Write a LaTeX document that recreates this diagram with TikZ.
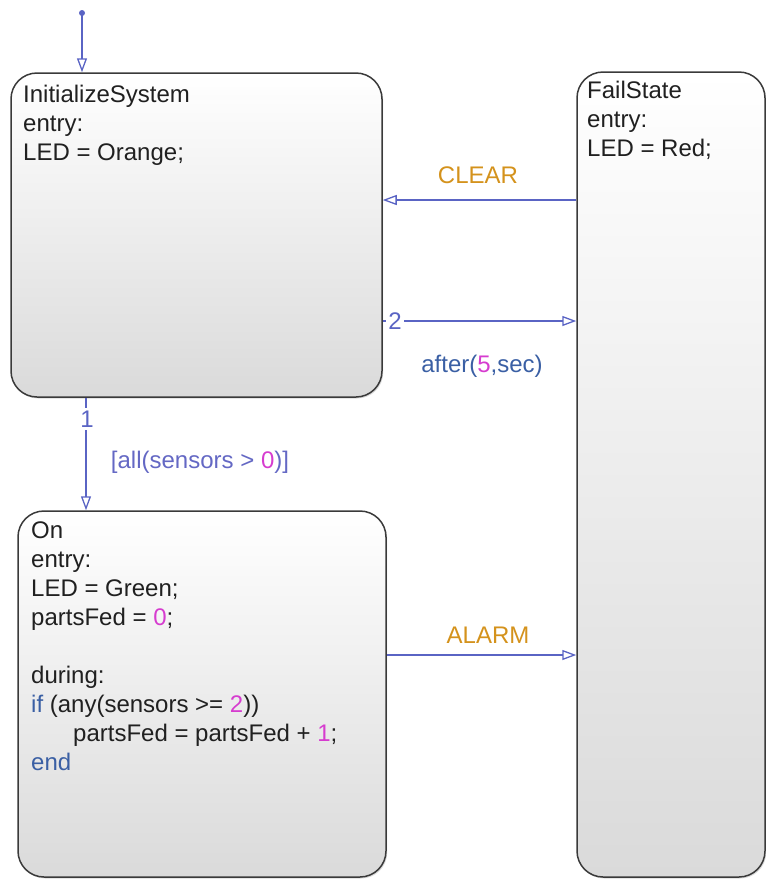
\documentclass[tikz,border=0pt]{standalone}
\usepackage{fontspec}
\setmainfont{Liberation Sans}
\usetikzlibrary{arrows.meta,shadows}
\definecolor{trblue}{HTML}{5A64C4}
\definecolor{guardblue}{HTML}{6468C4}
\definecolor{kwblue}{HTML}{3A5FA4}
\definecolor{numpink}{HTML}{D63CCF}
\definecolor{evorange}{HTML}{D4921C}
\definecolor{boxline}{HTML}{3A3A3A}
\definecolor{boxgray}{HTML}{DADADA}
\definecolor{txt}{HTML}{202020}
\begin{document}
\begin{tikzpicture}[x=1pt,y=-1pt,
  state/.style={draw=boxline, line width=1.5pt, rounded corners=26pt,
    top color=white, bottom color=boxgray, inner sep=0pt,
    drop shadow={fill=black, opacity=0.15, shadow xshift=1.2pt, shadow yshift=-1.5pt}},
  code/.style={anchor=base west, inner sep=0pt, text=txt, font=\fontsize{24}{29}\selectfont},
  lbl/.style={inner sep=0pt, font=\fontsize{24}{29}\selectfont},
  numlbl/.style={fill=white, inner sep=2.5pt, text=trblue, font=\fontsize{24}{29}\selectfont},
  tr/.style={draw=trblue, line width=1.3pt, -{Triangle[open, length=14pt, width=10pt, line width=1.3pt]}}
]
\useasboundingbox (0,0) rectangle (766,879);

% states
\node[state, minimum width=371pt, minimum height=324pt] (init) at (196.5,235) {};
\node[state, minimum width=368pt, minimum height=366pt] (on) at (202,694) {};
\node[state, minimum width=188pt, minimum height=805pt] (fail) at (671,474.5) {};

% state texts
\node[code] (i1) at (23,102) {InitializeSystem};
\node[code] (i2) at (23,131) {entry:};
\node[code] (i3) at (23,160) {LED = Orange;};

\node[code] (f1) at (587,98) {FailState};
\node[code] (f2) at (587,127) {entry:};
\node[code] (f3) at (587,156) {LED = Red;};

\node[code] (o1) at (31,538) {On};
\node[code] (o2) at (31,567) {entry:};
\node[code] (o3) at (31,596) {LED = Green;};
\node[code] (o4) at (31,625) {partsFed = \textcolor{numpink}{0};};
\node[code] (o5) at (31,683) {during:};
\node[code] (o6) at (31,712) {\textcolor{kwblue}{if} (any(sensors >= \textcolor{numpink}{2}))};
\node[code] (o7) at (73,741) {partsFed = partsFed + \textcolor{numpink}{1};};
\node[code] (o8) at (31,770) {\textcolor{kwblue}{end}};

% default transition
\coordinate (dot) at (82,13);
\fill[trblue] (dot) circle (3pt);
\draw[tr] (dot) -- (init.north -| dot);

% transition 1
\coordinate (c1) at (86,0);
\draw[tr] (init.south -| c1) -- (on.north -| c1);
\node[numlbl] (n1) at (87,419) {1};
\node[lbl, text=guardblue] (lguard) at (200,462) {[all(sensors > \textcolor{numpink}{0})]};

% CLEAR
\coordinate (yc) at (0,200);
\draw[tr] (fail.west |- yc) -- (init.east |- yc);
\node[lbl, text=evorange] (lclear) at (478,175) {CLEAR};

% transition 2 after(5,sec)
\coordinate (y2) at (0,321);
\draw[tr] (init.east |- y2) -- (fail.west |- y2);
\node[numlbl] (n2) at (395,321) {2};
\node[lbl, text=kwblue] (lafter) at (482,366) {after(\textcolor{numpink}{5},sec)};

% ALARM
\coordinate (ya) at (0,655);
\draw[tr] (on.east |- ya) -- (fail.west |- ya);
\node[lbl, text=evorange] (lalarm) at (488,635) {ALARM};
\end{tikzpicture}
\end{document}
